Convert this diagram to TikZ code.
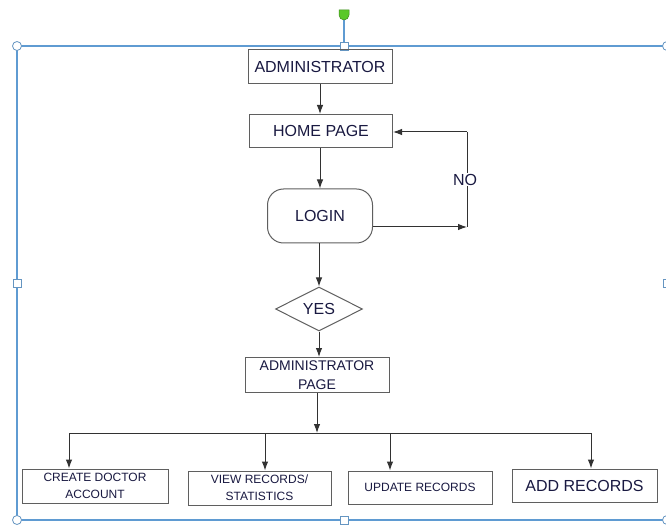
\documentclass[tikz,border=0pt]{standalone}
\usepackage{fontspec}
\setmainfont{Liberation Sans}
\usetikzlibrary{arrows.meta,shapes.geometric}
\definecolor{framec}{RGB}{95,155,210}
\definecolor{linec}{RGB}{50,50,50}
\definecolor{boxc}{RGB}{95,95,95}
\definecolor{txtc}{RGB}{25,25,65}
\definecolor{handleg}{RGB}{90,200,40}
\tikzset{
  box/.style={draw=boxc, line width=1pt, rectangle, inner sep=0pt, text=txtc, align=center},
  big/.style={font=\fontsize{16}{19}\selectfont},
  mid/.style={font=\fontsize{14}{18}\selectfont},
  small/.style={font=\fontsize{12}{17}\selectfont},
  arr/.style={draw=linec, line width=1pt, -{Latex[length=9pt,width=6.5pt]}},
  plain/.style={draw=linec, line width=1pt},
  handle/.style={draw=framec!80!gray, fill=white, line width=0.8pt},
}
\begin{document}
\begin{tikzpicture}[x=1pt,y=-1pt]
\path[use as bounding box, clip] (0,0) rectangle (666,526);
\fill[white] (0,0) rectangle (666,526);
% selection frame
\draw[framec, line width=1.2pt] (668,46) -- (17,46) -- (17,520) -- (668,520);
\draw[framec, line width=1.2pt] (344,19) -- (344,46);
\filldraw[handle] (17,46) circle (4.5);
\filldraw[handle] (17,520) circle (4.5);
\filldraw[handle] (667,46) circle (4.5);
\filldraw[handle] (667,520) circle (4.5);
\filldraw[handle] (340,42) rectangle (348,50);
\filldraw[handle] (340,516) rectangle (348,524);
\filldraw[handle] (13,279) rectangle (21,287);
\filldraw[handle] (663,279) rectangle (671,287);
\filldraw[fill=handleg, draw=handleg!70!black, line width=0.5pt] (339,10) -- (349,10) -- (349,15) arc (0:180:5) -- cycle;
% nodes
\node[box, big, minimum width=144pt, minimum height=34pt] (adm) at (320,67) {ADMINISTRATOR};
\node[box, big, minimum width=143pt, minimum height=33pt] (home) at (321,131) {HOME PAGE};
\node[box, big, rounded corners=16pt, minimum width=105pt, minimum height=54pt] (login) at (320,216) {LOGIN};
\node[box, big, diamond, minimum width=87pt, minimum height=44pt] (yes) at (319,309) {YES};
\node[box, mid, minimum width=144pt, minimum height=35pt] (apage) at (317,375) {\raisebox{2pt}{ADMINISTRATOR}\\[-1pt]PAGE};
\node[box, small, minimum width=146pt, minimum height=34pt] (create) at (95,486) {CREATE DOCTOR\\ACCOUNT};
\node[box, small, minimum width=143pt, minimum height=34pt] (view) at (259.5,488) {VIEW RECORDS/\\STATISTICS};
\node[box, small, minimum width=144pt, minimum height=33pt] (update) at (420,487.5) {UPDATE RECORDS};
\node[box, big, minimum width=145pt, minimum height=33pt] (addr) at (584.5,485.5) {ADD RECORDS};
% coordinates
\coordinate (loopB) at (467,227);
\coordinate (loopT) at (467,132);
\coordinate (busL) at (69,433);
\coordinate (busV) at (265,433);
\coordinate (busU) at (390,433);
\coordinate (busR) at (591,433);
\coordinate (busM) at (317,433);
% connectors
\draw[arr] (adm.south) -- (adm.south |- home.north);
\draw[arr] (login.north |- home.south) -- (login.north);
\draw[arr] (yes.north |- login.south) -- (yes.north);
\draw[arr] (yes.south) -- (yes.south |- apage.north);
\draw[arr] (login.east |- loopB) -- (loopB);
\draw[plain] (loopB) -- (loopT) node[midway, fill=white, inner sep=1pt, text=txtc, big, xshift=-2pt] (no) {NO};
\draw[arr] (loopT) -- (home.east |- loopT);
\draw[arr] (apage.south) -- (busM);
\draw[plain] (busL) -- (busR);
\draw[arr] (busL) -- (busL |- create.north);
\draw[arr] (busV) -- (busV |- view.north);
\draw[arr] (busU) -- (busU |- update.north);
\draw[arr] (busR) -- (busR |- addr.north);
\end{tikzpicture}
\end{document}
